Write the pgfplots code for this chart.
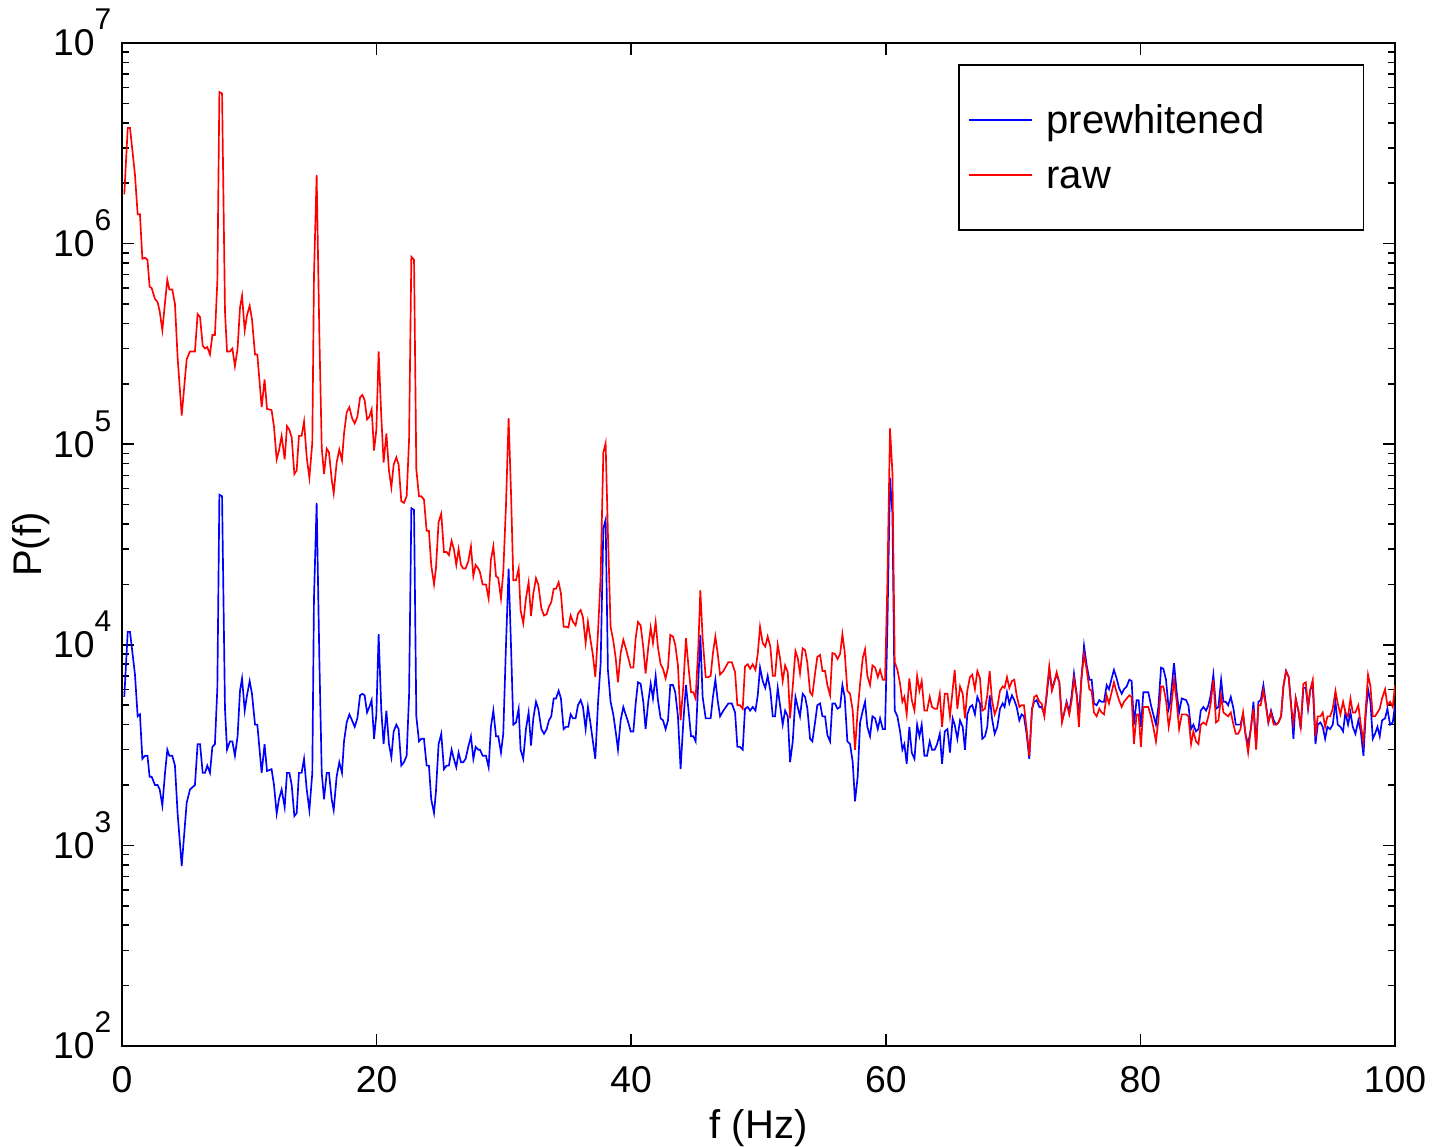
\documentclass[12pt,border=0pt]{standalone}
\usepackage{fontspec}
\setmainfont{Liberation Sans}
\usepackage{pgfplots}
\pgfplotsset{compat=1.18}
\newcommand\tenp[1]{10\smash{\raisebox{7.8pt}{\fontsize{9}{9}\selectfont #1}}}

\begin{document}
\begin{tikzpicture}
\begin{axis}[
    name=ax,
    scale only axis,
    width=381.9pt, height=300.9pt,
    xmin=0, xmax=100,
    ymode=log, ymin=1e2, ymax=1e7,
    xtick={0,20,...,100},
    ytick={1e2,1e3,1e4,1e5,1e6,1e7},
    yticklabels={\tenp{2},\tenp{3},\tenp{4},\tenp{5},\tenp{6},\tenp{7}},
    xticklabel style={/pgf/number format/assume math mode=true, font=\fontsize{11.2}{13}\selectfont, yshift=-1.8pt},
    yticklabel style={font=\fontsize{11.2}{13}\selectfont, xshift=1pt},
    tick align=inside,
    major tick length=3.6pt, minor tick length=2pt,
    axis line style={line width=0.45pt},
    every tick/.style={black, line width=0.45pt},
    xlabel={f (Hz)}, ylabel={P(f)},
    xlabel style={at={(0.5,-0.0818)}, anchor=center},
    ylabel style={at={(-0.0715,0.5)}, anchor=center, rotate=0},
    legend cell align=left,
    legend image code/.code={\draw[#1] (0pt,0pt) -- (19pt,0pt);},
    legend style={at={(0.976,0.979)}, anchor=north east, draw=black, line width=0.45pt,
        inner xsep=2.8pt, inner ysep=9.5pt, row sep=2.5pt,
        nodes={inner sep=1pt, text height=10.2pt, text depth=1.8pt},
        /tikz/every odd column/.append style={column sep=3pt}},
]
\addplot[blue, line width=0.5pt] coordinates {
(0.18,5.5e3) (0.45,1.16e4) (0.63,1.16e4) (1.02,7.1e3) (1.23,4.4e3) (1.41,4.5e3) (1.6,2.7e3) (1.81,2.8e3) (2.0,2.8e3) (2.17,2.2e3) (2.33,2.2e3) (2.59,2.0e3) (2.8,2.0e3) (2.96,1.9e3) (3.17,1.58e3) (3.38,2.3e3) (3.56,3.0e3) (3.72,2.8e3) (3.95,2.8e3) (4.16,2.5e3) (4.37,1.44e3) (4.69,7.9e2) (5.08,1.63e3) (5.34,1.9e3) (5.73,2.0e3) (5.94,3.2e3) (6.13,3.2e3) (6.34,2.3e3) (6.52,2.3e3) (6.7,2.5e3) (6.91,2.3e3) (7.1,3.1e3) (7.3,3.2e3) (7.49,6.1e3) (7.65,5.6e4) (7.86,5.5e4) (8.09,4.8e3) (8.25,3.0e3) (8.48,3.3e3) (8.67,3.3e3) (8.87,2.8e3) (9.08,3.5e3) (9.27,5.9e3) (9.43,6.8e3) (9.64,4.7e3) (9.82,5.6e3) (10.03,6.6e3) (10.21,5.7e3) (10.45,4.0e3) (10.63,4.0e3) (10.97,2.3e3) (11.2,3.2e3) (11.39,2.35e3) (11.75,2.4e3) (11.94,2.0e3) (12.15,1.44e3) (12.33,1.7e3) (12.54,1.9e3) (12.78,1.55e3) (12.96,2.3e3) (13.15,2.3e3) (13.33,2.0e3) (13.54,1.4e3) (13.72,1.45e3) (13.9,2.3e3) (14.11,2.3e3) (14.3,2.7e3) (14.51,1.9e3) (14.72,1.5e3) (14.95,2.3e3)
(15.08,1.7e4) (15.29,5.1e4) (15.5,8.7e3) (15.69,2.3e3) (15.87,1.7e3) (16.08,2.3e3) (16.26,2.3e3) (16.47,1.7e3) (16.63,1.5e3) (16.86,2.2e3) (17.07,2.6e3) (17.28,2.3e3) (17.44,3.3e3) (17.65,4.1e3) (17.86,4.5e3) (18.07,4.2e3) (18.28,3.9e3) (18.49,4.3e3) (18.7,5.6e3) (18.88,5.7e3) (19.06,5.6e3) (19.25,4.6e3) (19.43,4.9e3) (19.61,5.3e3) (19.8,3.4e3) (19.98,4.5e3) (20.16,1.13e4) (20.37,4.7e3) (20.55,3.2e3) (20.77,4.7e3) (20.97,3.2e3) (21.16,2.75e3) (21.34,3.7e3) (21.55,4.0e3) (21.73,3.8e3) (21.94,2.5e3) (22.15,2.6e3) (22.36,2.8e3) (22.55,5.6e3) (22.73,4.8e4) (22.94,4.7e4) (23.12,4.4e3) (23.33,3.3e3) (23.51,3.4e3) (23.72,3.4e3) (23.93,2.5e3) (24.11,2.5e3) (24.29,1.7e3) (24.51,1.45e3) (24.66,1.85e3) (24.87,3.2e3) (25.08,3.6e3) (25.29,2.4e3) (25.5,2.5e3) (25.68,2.5e3) (25.89,3.0e3) (26.07,2.7e3) (26.26,2.45e3) (26.44,2.9e3) (26.63,2.6e3) (26.81,2.6e3) (26.99,2.7e3) (27.2,3.1e3) (27.41,3.5e3) (27.6,2.7e3) (27.78,3.1e3) (27.99,3.0e3)
(28.12,3.0e3) (28.33,2.8e3) (28.59,2.8e3) (28.80,2.45e3) (28.98,3.9e3) (29.17,4.7e3) (29.38,3.5e3) (29.56,3.5e3) (29.77,2.9e3) (29.95,3.6e3) (30.16,9.8e3) (30.37,2.4e4) (30.56,9.8e3) (30.74,4.0e3) (30.95,4.1e3) (31.16,4.8e3) (31.31,3.0e3) (31.52,2.7e3) (31.73,3.8e3) (31.94,4.6e3) (32.13,3.15e3) (32.31,4.3e3) (32.52,5.2e3) (32.70,4.8e3) (32.94,3.8e3) (33.15,3.6e3) (33.36,3.8e3) (33.54,4.2e3) (33.72,4.4e3) (33.91,5.4e3) (34.09,5.4e3) (34.30,5.9e3) (34.48,5.4e3) (34.69,3.8e3) (34.88,3.9e3) (35.06,3.9e3) (35.24,4.5e3) (35.43,4.3e3) (35.63,4.3e3) (35.82,5.0e3) (36.03,5.3e3) (36.21,4.9e3) (36.42,3.8e3) (36.60,4.9e3) (36.79,4.1e3) (36.99,3.3e3) (37.18,2.7e3) (37.39,5.1e3) (37.60,8.1e3) (37.81,3.8e4) (37.99,4.2e4) (38.17,7.5e3) (38.38,5.2e3) (38.59,4.5e3) (38.78,3.7e3) (38.96,3.0e3) (39.17,4.2e3) (39.38,4.9e3) (39.56,4.5e3) (39.77,4.1e3) (39.96,3.7e3) (40.17,3.7e3) (40.35,5.1e3) (40.53,6.5e3) (40.74,6.4e3) (40.95,5.2e3) (41.13,3.8e3) (41.34,5.2e3) (41.53,6.4e3) (41.71,5.4e3) (41.92,7.0e3) (42.10,5.3e3) (42.31,4.3e3) (42.50,4.2e3) (42.70,3.8e3) (42.89,4.2e3) (43.07,6.3e3) (43.28,6.3e3) (43.46,5.8e3) (43.67,4.4e3) (43.88,2.4e3) (44.09,4.1e3) (44.30,6.3e3) (44.49,4.8e3) (44.70,3.5e3) (44.88,3.5e3) (45.06,3.3e3) (45.27,6.6e3) (45.43,1.12e4) (45.61,5.5e3) (45.85,4.3e3) (46.06,4.3e3) (46.24,4.3e3) (46.42,5.5e3) (46.61,6.7e3) (46.79,5.3e3)
(46.98,4.4e3) (47.24,4.7e3) (47.63,5.1e3) (47.90,5.1e3) (48.16,4.6e3) (48.34,3.1e3) (48.55,3.1e3) (48.76,3.0e3) (48.94,4.8e3) (49.15,4.9e3) (49.34,4.7e3) (49.55,4.9e3) (49.76,4.7e3) (49.94,5.6e3) (50.12,7.7e3) (50.33,6.6e3) (50.53,6.1e3) (50.72,7.0e3) (50.93,5.9e3) (51.12,4.4e3) (51.30,4.4e3) (51.51,6.1e3) (51.69,5.0e3) (51.90,4.0e3) (52.09,4.7e3) (52.30,4.4e3) (52.48,2.6e3) (52.69,3.3e3) (52.90,5.5e3) (53.08,4.9e3) (53.26,4.4e3) (53.47,5.7e3) (53.66,5.5e3) (53.84,4.8e3) (54.05,3.4e3) (54.23,3.3e3) (54.44,4.1e3) (54.62,5.0e3) (54.84,5.1e3) (55.02,4.4e3) (55.23,4.4e3) (55.41,3.55e3) (55.62,3.3e3) (55.80,5.1e3) (56.01,5.1e3) (56.20,4.8e3) (56.41,4.9e3) (56.59,6.3e3) (56.77,5.5e3) (56.98,3.3e3) (57.19,3.2e3) (57.40,2.6e3) (57.58,1.66e3) (57.79,2.2e3) (57.98,4.1e3) (58.19,4.7e3) (58.37,5.2e3) (58.55,3.9e3) (58.76,3.5e3) (58.95,4.4e3) (59.16,4.3e3) (59.37,3.8e3) (59.55,4.3e3) (59.76,3.8e3) (59.94,3.8e3) (60.12,1.19e4) (60.33,6.8e4) (60.52,4.5e4) (60.70,4.7e3) (60.91,4.4e3) (61.12,3.7e3) (61.30,3.0e3) (61.46,3.2e3) (61.64,2.55e3) (61.85,3.9e3) (62.04,2.9e3) (62.25,2.7e3) (62.46,4.0e3) (62.64,3.5e3) (62.82,4.0e3) (63.03,2.8e3) (63.24,2.8e3) (63.45,3.3e3) (63.63,3.0e3) (63.84,3.0e3) (64.03,3.2e3) (64.24,3.6e3) (64.42,2.55e3) (64.63,3.7e3) (64.84,3.8e3)
(65.04,2.9e3) (65.25,4.3e3) (65.41,4.0e3) (65.62,3.4e3) (65.83,4.2e3) (66.04,3.9e3) (66.22,3.0e3) (66.40,4.5e3) (66.61,4.9e3) (66.79,5.0e3) (67.00,4.5e3) (67.19,5.5e3) (67.40,5.1e3) (67.58,3.4e3) (67.79,3.5e3) (67.97,3.9e3) (68.16,5.6e3) (68.34,4.3e3) (68.55,3.6e3) (68.76,3.9e3) (68.97,4.8e3) (69.18,5.1e3) (69.33,4.9e3) (69.52,5.8e3) (69.70,5.1e3) (69.91,5.6e3) (70.09,5.3e3) (70.28,4.9e3) (70.49,4.2e3) (70.67,4.5e3) (70.85,4.4e3) (71.06,3.6e3) (71.27,2.7e3) (71.48,4.8e3) (71.66,5.2e3) (71.85,5.3e3) (72.06,4.9e3) (72.24,4.9e3) (72.45,4.5e3) (72.63,5.5e3) (72.84,7.5e3) (73.05,6.0e3) (73.24,6.6e3) (73.42,7.1e3) (73.63,6.5e3) (73.84,4.2e3) (74.02,4.6e3) (74.20,5.2e3) (74.41,4.6e3) (74.60,5.6e3) (74.78,7.2e3) (74.99,5.7e3) (75.17,4.4e3) (75.36,6.7e3) (75.57,9.9e3) (75.78,7.9e3) (75.99,6.7e3) (76.17,6.7e3) (76.35,5.1e3) (76.56,5.0e3) (76.77,5.3e3) (76.95,5.2e3) (77.14,5.2e3) (77.35,6.3e3) (77.53,6.0e3) (77.74,6.8e3) (77.92,7.5e3) (78.13,6.8e3) (78.32,6.1e3) (78.53,5.7e3) (78.71,6.0e3) (78.92,6.2e3) (79.13,6.7e3) (79.31,6.6e3) (79.49,4.0e3) (79.70,5.3e3) (79.86,5.3e3) (80.04,3.9e3) (80.23,5.8e3) (80.44,5.8e3) (80.62,5.8e3) (80.83,5.0e3) (81.01,4.5e3) (81.22,4.0e3) (81.41,4.9e3) (81.62,7.7e3) (81.80,7.6e3) (82.01,6.7e3) (82.22,4.8e3)
(82.33,5.1e3) (82.64,8.1e3) (82.85,5.8e3) (83.04,4.6e3) (83.25,5.4e3) (83.59,5.3e3) (83.77,5.0e3) (83.98,3.8e3) (84.16,4.0e3) (84.37,3.7e3) (84.56,3.8e3) (84.74,4.7e3) (84.95,4.9e3) (85.16,4.7e3) (85.34,5.0e3) (85.52,5.6e3) (85.73,7.1e3) (85.94,4.8e3) (86.13,4.9e3) (86.34,6.7e3) (86.52,5.2e3) (86.70,5.2e3) (86.89,5.0e3) (87.10,5.5e3) (87.31,4.8e3) (87.49,4.0e3) (87.67,4.0e3) (87.86,4.0e3) (88.06,4.5e3) (88.25,3.6e3) (88.46,3.2e3) (88.67,3.8e3) (88.88,5.2e3) (89.09,3.1e3) (89.27,5.2e3) (89.45,5.3e3) (89.66,6.3e3) (89.87,5.0e3) (90.05,4.1e3) (90.26,4.7e3) (90.47,4.2e3) (90.66,4.0e3) (90.84,4.1e3) (91.05,4.4e3) (91.23,6.2e3) (91.44,7.4e3) (91.65,6.9e3) (91.84,5.0e3) (92.02,3.4e3) (92.20,5.4e3) (92.41,4.7e3) (92.59,3.8e3) (92.80,6.1e3) (92.99,6.1e3) (93.17,4.8e3) (93.35,6.0e3) (93.54,6.2e3) (93.75,3.2e3) (93.93,4.0e3) (94.14,4.1e3) (94.32,3.9e3) (94.51,3.4e3) (94.69,3.9e3) (94.90,3.8e3) (95.11,4.0e3) (95.32,5.2e3) (95.50,4.0e3) (95.71,3.9e3) (95.92,3.7e3) (96.10,4.6e3) (96.31,4.0e3) (96.50,4.6e3) (96.68,3.9e3) (96.89,3.6e3) (97.12,4.2e3) (97.31,3.7e3) (97.52,2.8e3) (97.70,4.5e3) (97.88,6.0e3) (98.07,5.2e3) (98.25,3.4e3) (98.43,3.6e3) (98.62,3.9e3) (98.80,3.5e3) (98.98,4.2e3) (99.22,4.3e3) (99.40,4.8e3) (99.61,4.0e3) (99.82,4.1e3) (100,5.0e3)
};
\addlegendentry{prewhitened\hspace*{26pt}}
\addplot[red, line width=0.5pt] coordinates {
(0.18,1.76e6) (0.45,3.77e6) (0.63,3.77e6) (1.02,2.2e6) (1.23,1.4e6) (1.41,1.4e6) (1.6,8.4e5) (1.81,8.5e5) (2.0,8.3e5) (2.17,6.1e5) (2.33,6.0e5) (2.59,5.3e5) (2.8,5.1e5) (2.96,4.6e5) (3.17,3.7e5) (3.38,5.1e5) (3.56,6.6e5) (3.72,5.9e5) (3.95,5.9e5) (4.16,5.0e5) (4.37,2.7e5) (4.69,1.39e5) (5.08,2.65e5) (5.34,2.9e5) (5.73,2.9e5) (5.94,4.45e5) (6.13,4.3e5) (6.34,3.1e5) (6.52,3.0e5) (6.7,3.05e5) (6.91,2.8e5) (7.1,3.5e5) (7.3,3.5e5) (7.49,6.5e5) (7.65,5.7e6) (7.86,5.6e6) (8.09,4.6e5) (8.25,2.9e5) (8.48,2.9e5) (8.67,3.0e5) (8.87,2.45e5) (9.08,3.0e5) (9.27,4.8e5) (9.43,5.5e5) (9.64,3.7e5) (9.82,4.4e5) (10.03,4.9e5) (10.21,4.2e5) (10.45,2.8e5) (10.63,2.8e5) (10.97,1.53e5) (11.2,2.1e5) (11.39,1.5e5) (11.75,1.48e5) (11.94,1.22e5) (12.15,8.4e4) (12.33,9.3e4) (12.54,1.1e5) (12.78,8.4e4) (12.96,1.23e5) (13.15,1.18e5) (13.33,1.08e5) (13.54,7.1e4) (13.72,7.4e4) (13.9,1.1e5) (14.11,1.1e5) (14.3,1.3e5) (14.51,8.6e4) (14.72,6.8e4) (14.95,1.02e5)
(15.08,6.9e5) (15.29,2.2e6) (15.5,3.6e5) (15.69,9.6e4) (15.87,7.1e4) (16.08,9.5e4) (16.26,9.1e4) (16.47,6.7e4) (16.63,5.7e4) (16.86,8.1e4) (17.07,9.4e4) (17.28,8.3e4) (17.44,1.13e5) (17.65,1.44e5) (17.86,1.53e5) (18.07,1.35e5) (18.28,1.27e5) (18.49,1.37e5) (18.7,1.71e5) (18.88,1.76e5) (19.06,1.66e5) (19.25,1.33e5) (19.43,1.37e5) (19.61,1.49e5) (19.8,9.3e4) (19.98,1.18e5) (20.16,2.9e5) (20.37,1.37e5) (20.55,8.1e4) (20.77,1.13e5) (20.97,7.4e4) (21.16,6.1e4) (21.34,7.9e4) (21.55,8.6e4) (21.73,7.9e4) (21.94,5.2e4) (22.15,5.1e4) (22.36,5.5e4) (22.55,1.05e5) (22.73,8.6e5) (22.94,8.3e5) (23.12,7.5e4) (23.33,5.5e4) (23.51,5.5e4) (23.72,5.3e4) (23.93,3.7e4) (24.11,3.7e4) (24.29,2.5e4) (24.51,2.0e4) (24.66,2.4e4) (24.87,4.1e4) (25.08,4.5e4) (25.29,2.9e4) (25.5,2.9e4) (25.68,2.8e4) (25.89,3.3e4) (26.07,3.0e4) (26.26,2.5e4) (26.44,3.0e4) (26.63,2.5e4) (26.81,2.4e4) (26.99,2.4e4) (27.2,2.6e4) (27.41,3.1e4) (27.6,2.2e4) (27.78,2.5e4) (27.99,2.4e4)
(28.12,2.3e4) (28.33,2.0e4) (28.59,2.0e4) (28.80,1.7e4) (28.98,2.65e4) (29.17,3.1e4) (29.38,2.2e4) (29.56,2.15e4) (29.77,1.7e4) (29.95,2.3e4) (30.16,4.9e4) (30.37,1.35e5) (30.56,5.7e4) (30.74,2.1e4) (30.95,2.1e4) (31.16,2.4e4) (31.31,1.49e4) (31.52,1.28e4) (31.73,1.7e4) (31.94,2.05e4) (32.13,1.39e4) (32.31,1.8e4) (32.52,2.15e4) (32.70,2.0e4) (32.94,1.52e4) (33.15,1.4e4) (33.36,1.42e4) (33.54,1.55e4) (33.72,1.63e4) (33.91,1.9e4) (34.09,1.9e4) (34.30,2.05e4) (34.48,1.8e4) (34.69,1.23e4) (34.88,1.23e4) (35.06,1.22e4) (35.24,1.4e4) (35.43,1.3e4) (35.63,1.25e4) (35.82,1.43e4) (36.03,1.49e4) (36.21,1.37e4) (36.42,1.02e4) (36.60,1.3e4) (36.79,1.07e4) (36.99,8.9e3) (37.18,6.9e3) (37.39,1.15e4) (37.60,2.2e4) (37.81,9.1e4) (37.99,1.01e5) (38.17,3.6e4) (38.38,1.23e4) (38.59,1.05e4) (38.78,8.6e3) (38.96,6.5e3) (39.17,9.1e3) (39.38,1.06e4) (39.56,9.7e3) (39.77,8.6e3) (39.96,7.7e3) (40.17,7.7e3) (40.35,1.08e4) (40.53,1.3e4) (40.74,1.25e4) (40.95,9.7e3) (41.13,7.2e3) (41.34,9.7e3) (41.53,1.22e4) (41.71,1.02e4) (41.92,1.3e4) (42.10,9.7e3) (42.31,8.0e3) (42.50,7.6e3) (42.70,6.8e3) (42.89,7.7e3) (43.07,1.12e4) (43.28,1.1e4) (43.46,1.0e4) (43.67,7.9e3) (43.88,4.2e3) (44.09,6.2e3) (44.30,1.08e4) (44.49,7.9e3) (44.70,5.8e3) (44.88,5.8e3) (45.06,5.4e3) (45.27,9.7e3) (45.43,1.87e4) (45.61,1.08e4) (45.85,6.9e3) (46.06,6.9e3) (46.24,7.0e3) (46.42,9.1e3) (46.61,1.1e4) (46.79,9.1e3)
(46.98,7.1e3) (47.24,7.4e3) (47.63,8.2e3) (47.90,8.2e3) (48.16,7.3e3) (48.34,5.0e3) (48.55,5.0e3) (48.76,4.8e3) (48.94,7.8e3) (49.15,8.0e3) (49.34,7.6e3) (49.55,8.0e3) (49.76,7.5e3) (49.94,9.0e3) (50.12,1.23e4) (50.33,1.02e4) (50.53,9.8e3) (50.72,1.1e4) (50.93,9.8e3) (51.12,7.0e3) (51.30,7.0e3) (51.51,1.0e4) (51.69,8.6e3) (51.90,6.6e3) (52.09,7.9e3) (52.30,7.3e3) (52.48,4.3e3) (52.69,6.2e3) (52.90,9.3e3) (53.08,8.6e3) (53.26,7.2e3) (53.47,9.6e3) (53.66,9.4e3) (53.84,8.1e3) (54.05,5.8e3) (54.23,5.6e3) (54.44,7.2e3) (54.62,8.7e3) (54.84,8.9e3) (55.02,7.4e3) (55.23,7.4e3) (55.41,6.3e3) (55.62,5.6e3) (55.80,9.1e3) (56.01,9.0e3) (56.20,8.5e3) (56.41,9.0e3) (56.59,1.13e4) (56.77,9.2e3) (56.98,5.9e3) (57.19,5.7e3) (57.40,4.7e3) (57.58,3.0e3) (57.79,4.7e3) (57.98,6.4e3) (58.19,8.6e3) (58.37,9.5e3) (58.55,7.0e3) (58.76,6.3e3) (58.95,7.9e3) (59.16,7.7e3) (59.37,6.9e3) (59.55,7.5e3) (59.76,6.7e3) (59.94,6.7e3) (60.12,2.0e4) (60.33,1.2e5) (60.52,7.2e4) (60.70,8.2e3) (60.91,7.5e3) (61.12,6.4e3) (61.30,5.2e3) (61.46,5.5e3) (61.64,4.5e3) (61.85,6.8e3) (62.04,5.3e3) (62.25,4.7e3) (62.46,7.0e3) (62.64,5.9e3) (62.82,6.6e3) (63.03,4.7e3) (63.24,4.7e3) (63.45,5.5e3) (63.63,4.9e3) (63.84,4.8e3) (64.03,4.8e3) (64.24,5.7e3) (64.42,3.9e3) (64.63,5.7e3) (64.84,5.7e3)
(65.04,4.4e3) (65.41,7.5e3) (65.62,4.8e3) (65.83,6.2e3) (66.04,5.7e3) (66.22,4.3e3) (66.40,5.9e3) (66.61,6.9e3) (66.79,7.1e3) (67.00,6.0e3) (67.19,7.4e3) (67.40,6.8e3) (67.58,4.7e3) (67.79,4.8e3) (67.97,5.6e3) (68.16,7.4e3) (68.34,5.3e3) (68.55,4.5e3) (68.76,4.9e3) (68.97,5.9e3) (69.18,6.2e3) (69.33,6.1e3) (69.52,6.9e3) (69.70,6.1e3) (69.91,6.6e3) (70.09,6.7e3) (70.28,5.6e3) (70.49,4.9e3) (70.67,5.0e3) (70.85,5.0e3) (71.06,3.8e3) (71.27,2.8e3) (71.48,4.7e3) (71.66,5.5e3) (71.85,5.6e3) (72.06,5.2e3) (72.24,5.1e3) (72.45,4.4e3) (72.63,5.7e3) (72.84,7.8e3) (73.05,5.9e3) (73.24,6.5e3) (73.42,7.3e3) (73.63,6.5e3) (73.84,4.1e3) (74.02,4.6e3) (74.20,5.1e3) (74.41,4.5e3) (74.60,5.3e3) (74.78,6.8e3) (74.99,5.6e3) (75.17,3.9e3) (75.36,6.7e3) (75.57,9.0e3) (75.78,7.5e3) (75.99,6.0e3) (76.17,5.9e3) (76.35,4.6e3) (76.56,4.4e3) (76.77,4.8e3) (76.95,4.6e3) (77.14,4.5e3) (77.35,5.6e3) (77.53,5.1e3) (77.74,5.8e3) (77.92,6.5e3) (78.13,5.8e3) (78.32,5.3e3) (78.53,4.9e3) (78.71,5.2e3) (78.92,5.4e3) (79.13,5.6e3) (79.31,5.5e3) (79.49,3.2e3) (79.70,4.5e3) (79.86,4.5e3) (80.04,3.1e3) (80.23,4.9e3) (80.44,4.9e3) (80.62,4.9e3) (80.83,4.4e3) (81.01,3.9e3) (81.22,3.3e3) (81.41,4.2e3) (81.62,6.2e3) (81.80,6.2e3) (82.01,5.3e3) (82.22,3.9e3)
(82.33,4.3e3) (82.64,6.7e3) (82.85,5.2e3) (83.04,3.8e3) (83.25,4.5e3) (83.59,4.5e3) (83.77,4.4e3) (83.98,3.2e3) (84.16,3.7e3) (84.37,3.3e3) (84.56,3.2e3) (84.74,4.0e3) (84.95,4.1e3) (85.16,4.0e3) (85.34,4.4e3) (85.52,5.1e3) (85.73,6.7e3) (85.94,4.1e3) (86.13,4.2e3) (86.34,5.6e3) (86.52,4.6e3) (86.70,4.5e3) (86.89,4.4e3) (87.10,4.6e3) (87.31,4.0e3) (87.49,3.6e3) (87.67,3.6e3) (87.86,3.8e3) (88.06,4.6e3) (88.25,3.6e3) (88.46,2.9e3) (88.67,3.8e3) (88.88,4.8e3) (89.09,3.0e3) (89.27,5.0e3) (89.45,5.0e3) (89.66,5.9e3) (89.87,4.9e3) (90.05,4.1e3) (90.26,4.6e3) (90.47,4.0e3) (90.66,4.0e3) (90.84,4.1e3) (91.05,4.4e3) (91.23,6.2e3) (91.44,7.4e3) (91.65,6.9e3) (91.84,4.9e3) (92.02,4.1e3) (92.20,5.4e3) (92.41,4.7e3) (92.59,3.9e3) (92.80,6.4e3) (92.99,6.5e3) (93.17,4.9e3) (93.35,6.0e3) (93.54,6.7e3) (93.75,3.5e3) (93.93,4.4e3) (94.14,4.4e3) (94.32,4.6e3) (94.51,3.9e3) (94.69,4.4e3) (94.90,4.4e3) (95.11,4.8e3) (95.32,5.9e3) (95.50,5.1e3) (95.71,4.5e3) (95.92,5.2e3) (96.10,4.6e3) (96.31,4.4e3) (96.50,5.4e3) (96.68,4.6e3) (96.89,4.6e3) (97.12,5.0e3) (97.31,4.0e3) (97.52,3.3e3) (97.70,4.8e3) (97.88,7.1e3) (98.07,6.2e3) (98.25,4.4e3) (98.43,4.4e3) (98.62,4.6e3) (98.80,4.8e3) (98.98,5.4e3) (99.22,6.0e3) (99.40,5.0e3) (99.61,5.2e3) (99.82,4.9e3) (100,6.3e3)
};
\addlegendentry{raw}
\end{axis}
\pgfresetboundingbox
\path[use as bounding box] ([xshift=-36.6pt,yshift=-30pt]ax.south west) rectangle ([xshift=16.8pt,yshift=12.9pt]ax.north east);
\end{tikzpicture}
\end{document}
